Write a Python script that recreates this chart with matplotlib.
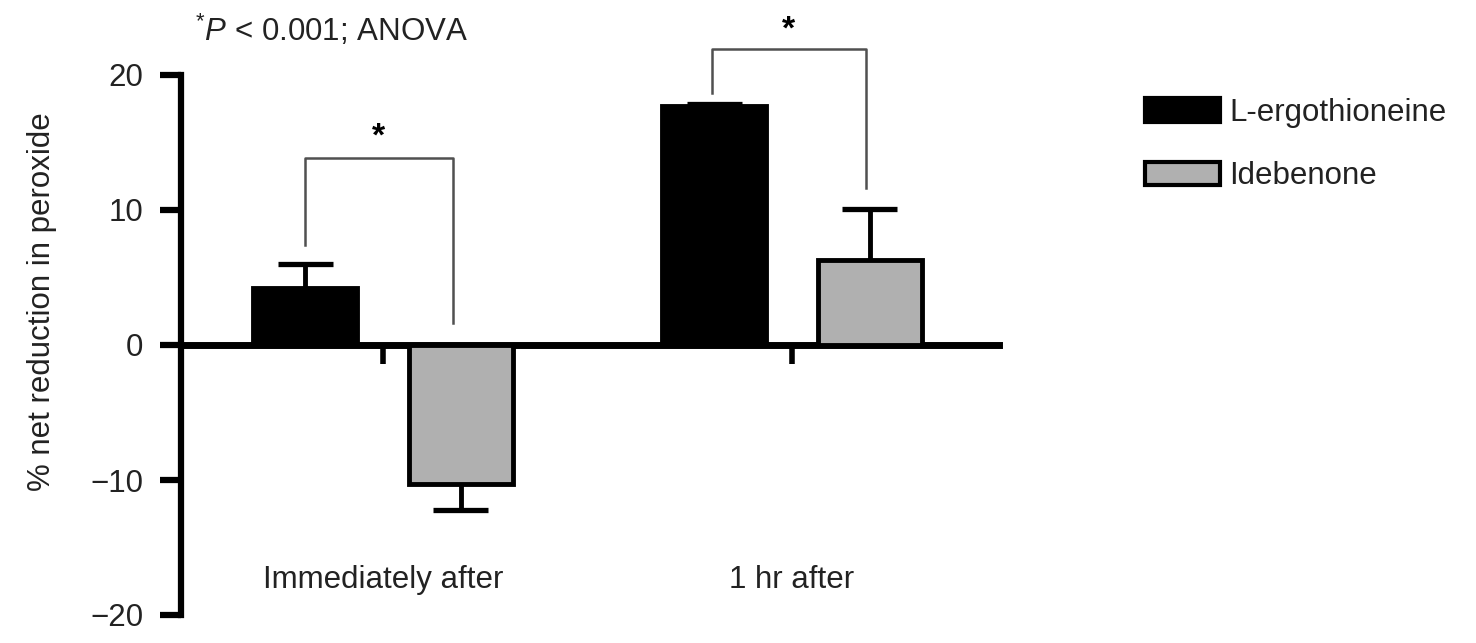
import numpy as np
import matplotlib
matplotlib.use("Agg")
import matplotlib.pyplot as plt
from matplotlib.patches import Patch

plt.rcParams['font.family'] = ['Liberation Sans', 'DejaVu Sans']
plt.rcParams['mathtext.fontset'] = 'custom'
plt.rcParams['mathtext.rm'] = 'Liberation Sans'
plt.rcParams['mathtext.it'] = 'Liberation Sans:italic'

# data
categories = ['Immediately after', '1 hr after']
series = ['L-ergothioneine', 'Idebenone']
ergo_vals = [4.2, 17.7]
ergo_err = [1.8, 0.15]
ide_vals = [-10.3, 6.3]
ide_err = [1.9, 3.8]
y_ticks = [-20, -10, 0, 10, 20]

# significance brackets: (left x, right x, top y, left leg end, right leg end, star y)
brackets = [
    (-0.19, 0.17, 13.85, 7.4, 1.6, 15.4),
    (-0.196, 0.181, 21.9, 18.7, 11.6, 23.3),
]

fs = 22.5
x = np.arange(len(categories))
off = 0.19
w = 0.255

fig = plt.figure(figsize=(14.76, 6.43), dpi=100)
ax = fig.add_axes([181 / 1476, 28 / 643, 818 / 1476, 540 / 643])

ax.bar(x - off, ergo_vals, w, color='black', edgecolor='black', linewidth=3.5, zorder=3)
ax.bar(x + off, ide_vals, w, color='#b0b0b0', edgecolor='black', linewidth=3.5, zorder=3)

# one-sided error bars (away from zero)
for i in range(len(x)):
    for xs, v, e in [(x[i] - off, ergo_vals[i], ergo_err[i]), (x[i] + off, ide_vals[i], ide_err[i])]:
        end = v + np.sign(v) * e
        ax.plot([xs, xs], [v, end], color='black', lw=3.5, zorder=2, solid_capstyle='butt')
        ax.plot([xs - 0.067, xs + 0.067], [end, end], color='black', lw=3.8, zorder=2,
                solid_capstyle='butt')

for (xl, xr, top, yl, yr, ys), xc in zip(brackets, x):
    ax.plot([xc + xl, xc + xl, xc + xr, xc + xr], [yl, top, top, yr], color='#505050', lw=1.8,
            clip_on=False, zorder=4)
    ax.text(xc + (xl + xr) / 2, ys, '*', ha='center', va='center', fontsize=fs + 2,
            fontweight='bold', clip_on=False)

ax.set_xlim(-0.494, 1.506)
ax.set_ylim(-20, 20)

for s in ['top', 'right']:
    ax.spines[s].set_visible(False)
ax.spines['bottom'].set_position(('data', 0))
ax.spines['bottom'].set_linewidth(5)
ax.spines['left'].set_linewidth(4.5)
ax.spines['left'].set_bounds(-20, 20)

ax.set_yticks(y_ticks)
ax.set_yticklabels(['\u221220', '\u221210', '0', '10', '20'])
ax.tick_params(axis='y', direction='out', length=15, width=4.5, pad=12, labelsize=fs,
               labelcolor='#222222')
ax.set_xticks(x)
ax.set_xticklabels([])
ax.tick_params(axis='x', direction='out', length=14, width=4, pad=0)

for xc, lab in zip(x, categories):
    ax.text(xc, -17.4, lab, ha='center', va='center', fontsize=fs, color='#222222')

ax.set_ylabel('% net reduction in peroxide', fontsize=fs, color='#222222')
ax.yaxis.set_label_coords(-0.152, 0.58)

fig.text(195 / 1476, 1 - 30 / 643, r'$^{*}\mathit{P}$ < 0.001; ANOVA', fontsize=fs,
         va='center', ha='left', color='#222222')

handles = [Patch(facecolor='black', edgecolor='black', linewidth=3),
           Patch(facecolor='#b0b0b0', edgecolor='black', linewidth=3)]
fig.legend(handles, series, loc='upper left', bbox_to_anchor=(1145 / 1476, 1 - 98 / 643),
           frameon=False, fontsize=fs, borderpad=0, borderaxespad=0, handlelength=2.4,
           handleheight=0.78, handletextpad=0.3, labelspacing=1.06, labelcolor='#222222')

fig.savefig('out.png', dpi=100)
